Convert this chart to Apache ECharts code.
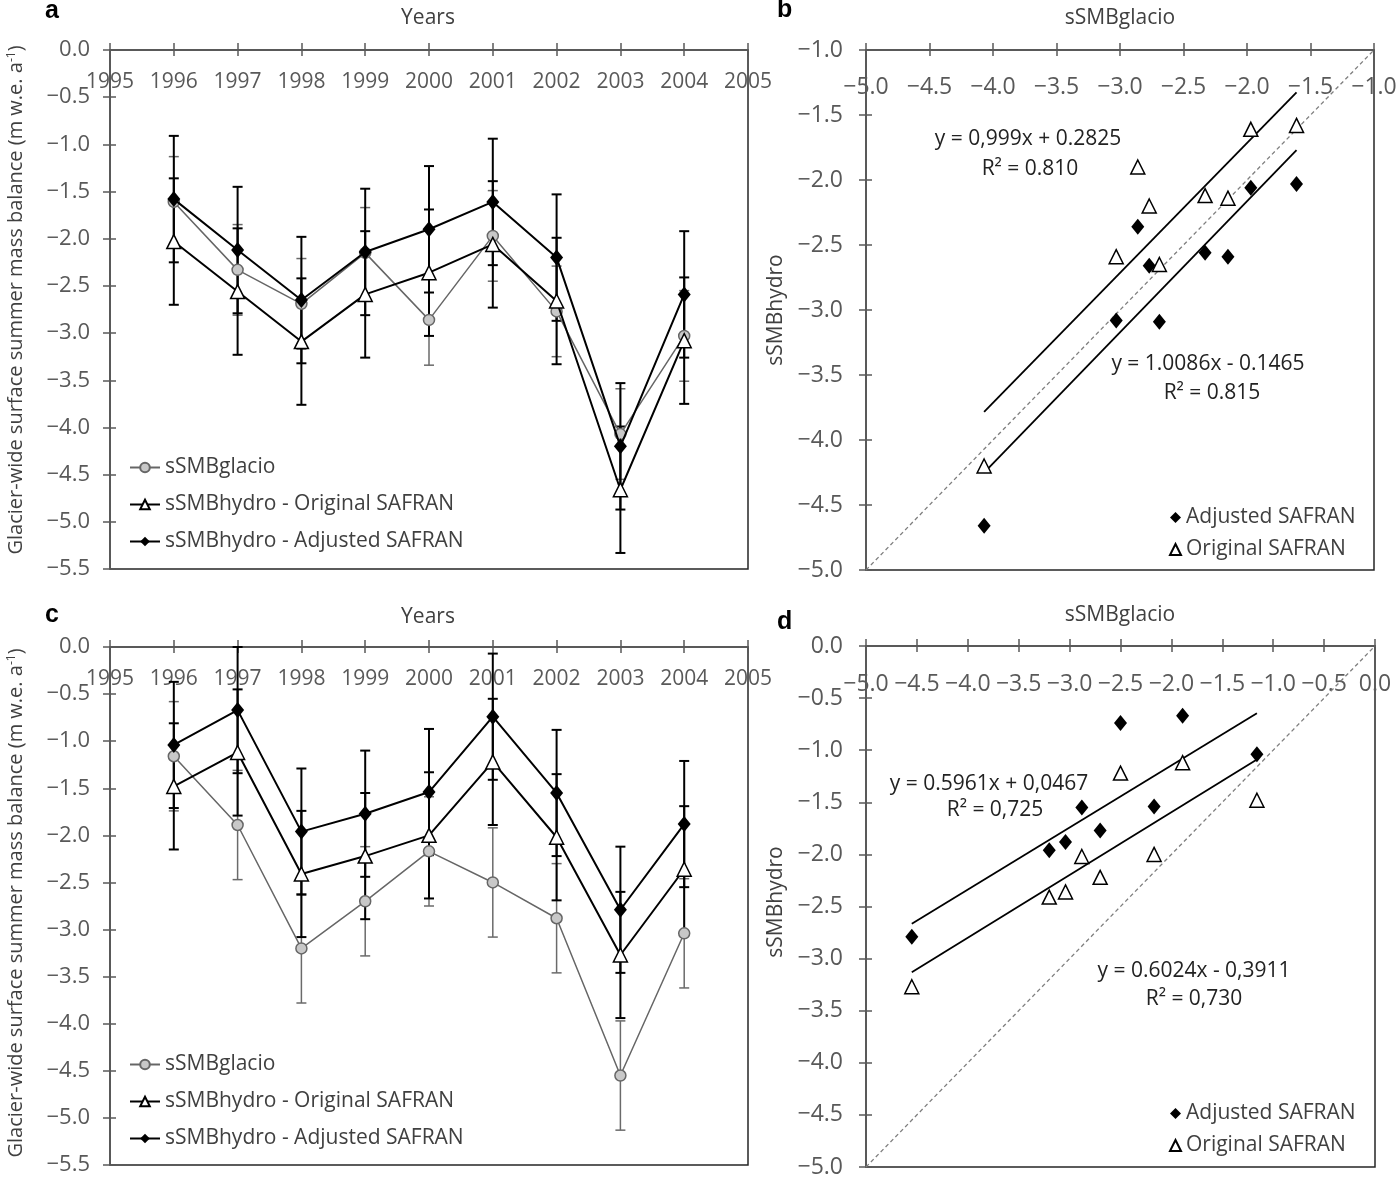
<!DOCTYPE html>
<html>
<head>
<meta charset="utf-8">
<script src="https://cdn.jsdelivr.net/npm/echarts@6/dist/echarts.min.js"></script>
<style>
html,body{margin:0;padding:0;background:#fff;}
#chart{width:1400px;height:1195px;}
</style>
</head>
<body>
<div id="chart"></div>
<script>
// years of the time series (panels a and c)
var years = [1996, 1997, 1998, 1999, 2000, 2001, 2002, 2003, 2004];

// panel a : sSMB (m w.e.) per year
var glacioA = [-1.61, -2.33, -2.69, -2.15, -2.86, -1.97, -2.77, -4.07, -3.03];
var origA   = [-2.03, -2.56, -3.09, -2.59, -2.36, -2.06, -2.66, -4.66, -3.08];
var adjA    = [-1.58, -2.12, -2.65, -2.14, -1.90, -1.61, -2.20, -4.20, -2.59];
var errGlacioA = [0.48, 0.48, 0.48, 0.48, 0.48, 0.48, 0.48, 0.48, 0.48];
var errHydroA  = [0.67, 0.67, 0.67, 0.67, 0.67, 0.67, 0.67, 0.67, 0.67];

// panel c
var glacioC = [-1.16, -1.89, -3.20, -2.70, -2.17, -2.50, -2.88, -4.55, -3.04];
var origC   = [-1.48, -1.12, -2.41, -2.22, -2.00, -1.22, -2.02, -3.27, -2.36];
var adjC    = [-1.04, -0.67, -1.96, -1.77, -1.54, -0.74, -1.55, -2.79, -1.88];
var errGlacioC = [0.58, 0.58, 0.58, 0.58, 0.58, 0.58, 0.58, 0.58, 0.58];
var errHydroC  = [0.67, 0.67, 0.67, 0.67, 0.67, 0.67, 0.67, 0.67, 0.67];

// regression lines printed on b and d : [slope, intercept]
var fitB_upper = [0.999, 0.2825];
var fitB_lower = [1.0086, -0.1465];
var fitD_upper = [0.5961, 0.0467];
var fitD_lower = [0.6024, -0.3911];

var legendA = ['sSMBglacio', 'sSMBhydro - Original SAFRAN', 'sSMBhydro - Adjusted SAFRAN'];
var legendB = ['Adjusted SAFRAN', 'Original SAFRAN'];

var GREY = '#595959';
var TXT = '#404040';

function pairs(xs, ys) {
    return xs.map(function (x, i) { return [x, ys[i]]; });
}
function withErr(xs, ys, es) {
    return xs.map(function (x, i) { return [x, ys[i], es[i]]; });
}
function fitLine(xs, coef) {
    var lo = Math.min.apply(null, xs), hi = Math.max.apply(null, xs);
    return [[lo, coef[0] * lo + coef[1]], [hi, coef[0] * hi + coef[1]]];
}

function mainAxis(grid, pos, min, max, step, size, margin, fmt) {
    return {
        type: 'value', gridIndex: grid, position: pos, min: min, max: max, interval: step,
        axisLine: {show: true, onZero: false, lineStyle: {color: GREY, width: 1.5}},
        axisTick: {show: true, inside: false, length: 7, lineStyle: {color: GREY, width: 1.5}},
        axisLabel: {show: true, inside: pos === 'top', margin: margin, color: GREY,
            fontFamily: 'Open Sans', fontSize: size, formatter: fmt, showMinLabel: true, showMaxLabel: true},
        splitLine: {show: false}
    };
}
// second axis only to get ticks crossing the axis line
function innerTicks(grid, pos, min, max, step) {
    return {
        type: 'value', gridIndex: grid, position: pos, min: min, max: max, interval: step,
        axisLine: {show: false, onZero: false},
        axisTick: {show: true, inside: true, length: 6, lineStyle: {color: GREY, width: 1.5}},
        axisLabel: {show: false}, splitLine: {show: false}
    };
}
var fmt1 = function (v) { return v.toFixed(1).replace('-', '\u2212'); };
var fmtYear = function (v) { return String(v); };

function errorBars(name, xi, yi, data, color, width) {
    return {
        type: 'custom', name: name, xAxisIndex: xi, yAxisIndex: yi, z: 1, silent: true,
        data: data,
        renderItem: function (params, api) {
            var x = api.value(0), y = api.value(1), e = api.value(2);
            var t = api.coord([x, y + e]), b = api.coord([x, y - e]);
            var st = {stroke: color, lineWidth: width};
            return {type: 'group', children: [
                {type: 'line', shape: {x1: t[0], y1: t[1], x2: b[0], y2: b[1]}, style: st},
                {type: 'line', shape: {x1: t[0] - 5, y1: t[1], x2: t[0] + 5, y2: t[1]}, style: st},
                {type: 'line', shape: {x1: b[0] - 5, y1: b[1], x2: b[0] + 5, y2: b[1]}, style: st}
            ]};
        }
    };
}

function timeSeries(xi, yi, glacio, orig, adj, eg, eh) {
    return [
        errorBars('eg', xi, yi, withErr(years, glacio, eg), '#6a6a6a', 1.5),
        errorBars('eo', xi, yi, withErr(years, orig, eh), '#000', 2),
        errorBars('ea', xi, yi, withErr(years, adj, eh), '#000', 2),
        {type: 'line', name: legendA[0], xAxisIndex: xi, yAxisIndex: yi, z: 3,
            data: pairs(years, glacio), symbol: 'circle', symbolSize: 11,
            itemStyle: {color: '#c8c8c8', borderColor: '#666', borderWidth: 1.5},
            lineStyle: {color: '#666', width: 1.5}},
        {type: 'line', name: legendA[1], xAxisIndex: xi, yAxisIndex: yi, z: 4,
            data: pairs(years, orig), symbol: 'triangle', symbolSize: 14,
            itemStyle: {color: '#fff', borderColor: '#000', borderWidth: 1.5},
            lineStyle: {color: '#000', width: 2}},
        {type: 'line', name: legendA[2], xAxisIndex: xi, yAxisIndex: yi, z: 5,
            data: pairs(years, adj), symbol: 'diamond', symbolSize: [13, 16],
            itemStyle: {color: '#000'}, lineStyle: {color: '#000', width: 2}}
    ];
}

function scatterPanel(xi, yi, glacio, diamY, triY, fitUp, fitLow, oneToOne) {
    return [
        {type: 'line', name: 'one', xAxisIndex: xi, yAxisIndex: yi, data: oneToOne, symbol: 'none',
            silent: true, lineStyle: {color: '#7f7f7f', width: 1.3, type: [4, 3]}},
        {type: 'line', name: 'fit1', xAxisIndex: xi, yAxisIndex: yi, data: fitLine(glacio, fitUp),
            symbol: 'none', silent: true, lineStyle: {color: '#000', width: 1.8}},
        {type: 'line', name: 'fit2', xAxisIndex: xi, yAxisIndex: yi, data: fitLine(glacio, fitLow),
            symbol: 'none', silent: true, lineStyle: {color: '#000', width: 1.8}},
        {type: 'scatter', name: legendB[0], xAxisIndex: xi, yAxisIndex: yi, z: 4,
            data: pairs(glacio, diamY), symbol: 'diamond', symbolSize: [13, 16],
            itemStyle: {color: '#000', opacity: 1}},
        {type: 'scatter', name: legendB[1], xAxisIndex: xi, yAxisIndex: yi, z: 4,
            data: pairs(glacio, triY), symbol: 'triangle', symbolSize: 14,
            itemStyle: {color: '#fff', borderColor: '#000', borderWidth: 1.5, opacity: 1}}
    ];
}

function txt(x, y, s, size, opts) {
    opts = opts || {};
    return {
        type: 'text', x: x, y: y, rotation: opts.rot || 0, z: 10,
        style: {
            text: s, fill: opts.color || TXT, align: opts.align || 'center', verticalAlign: 'middle',
            fontFamily: opts.font || 'Open Sans', fontSize: size, fontWeight: opts.bold ? 'bold' : 'normal',
            rich: {sup: {fontSize: 12, verticalAlign: 'top', fontFamily: 'Open Sans', fill: TXT}}
        }
    };
}

var grids = [
    {left: 110, top: 50, width: 638, height: 519},
    {left: 866, top: 50, width: 508, height: 520},
    {left: 110, top: 647, width: 638, height: 518},
    {left: 866, top: 646, width: 509, height: 521}
].map(function (g) {
    g.show = true; g.borderColor = '#262626'; g.borderWidth = 1.5;
    g.backgroundColor = 'transparent'; g.containLabel = false; g.outerBoundsMode = 'none';
    return g;
});

var xAxes = [
    mainAxis(0, 'top', 1995, 2005, 1, 21, 22, fmtYear),
    mainAxis(1, 'top', -5, -1, 0.5, 23, 26, fmt1),
    mainAxis(2, 'top', 1995, 2005, 1, 21, 22, fmtYear),
    mainAxis(3, 'top', -5, 0, 0.5, 23, 27, fmt1),
    innerTicks(0, 'top', 1995, 2005, 1),
    innerTicks(1, 'top', -5, -1, 0.5),
    innerTicks(2, 'top', 1995, 2005, 1),
    innerTicks(3, 'top', -5, 0, 0.5)
];
var yAxes = [
    mainAxis(0, 'left', -5.5, 0, 0.5, 22, 20, fmt1),
    mainAxis(1, 'left', -5, -1, 0.5, 23, 23, fmt1),
    mainAxis(2, 'left', -5.5, 0, 0.5, 22, 20, fmt1),
    mainAxis(3, 'left', -5, 0, 0.5, 23, 23, fmt1),
    innerTicks(0, 'left', -5.5, 0, 0.5),
    innerTicks(1, 'left', -5, -1, 0.5),
    innerTicks(2, 'left', -5.5, 0, 0.5),
    innerTicks(3, 'left', -5, 0, 0.5)
];

var series = [].concat(
    timeSeries(0, 0, glacioA, origA, adjA, errGlacioA, errHydroA),
    timeSeries(2, 2, glacioC, origC, adjC, errGlacioC, errHydroC),
    // panel b: markers as in the published figure
    scatterPanel(1, 1, glacioA, origA, adjA, fitB_upper, fitB_lower, [[-5, -5], [-1, -1]]),
    scatterPanel(3, 3, glacioC, adjC, origC, fitD_upper, fitD_lower, [[-5, -5], [0, 0]])
);

var legendStyle = {fontFamily: 'Open Sans', fontSize: 21, color: TXT};
var legends = [
    {data: legendA, orient: 'vertical', left: 124, top: 452, itemWidth: 30, itemHeight: 12, itemGap: 16, textStyle: legendStyle, selectedMode: false},
    {data: legendA, orient: 'vertical', left: 124, top: 1049, itemWidth: 30, itemHeight: 12, itemGap: 16, textStyle: legendStyle, selectedMode: false},
    {data: legendB, orient: 'vertical', left: 1164, top: 502, itemWidth: 11, itemHeight: 11, itemGap: 11, textStyle: legendStyle, selectedMode: false},
    {data: legendB, orient: 'vertical', left: 1164, top: 1098, itemWidth: 11, itemHeight: 11, itemGap: 11, textStyle: legendStyle, selectedMode: false}
];

var yTitle = 'Glacier-wide surface summer mass balance (m w.e. a{sup|-1})';
var graphics = [
    txt(45, 11, 'a', 25, {bold: true, font: 'Liberation Sans', color: '#000', align: 'left'}),
    txt(777, 10, 'b', 25, {bold: true, font: 'Liberation Sans', color: '#000', align: 'left'}),
    txt(45, 615, 'c', 25, {bold: true, font: 'Liberation Sans', color: '#000', align: 'left'}),
    txt(777, 622, 'd', 25, {bold: true, font: 'Liberation Sans', color: '#000', align: 'left'}),
    txt(428, 18, 'Years', 21),
    txt(428, 617, 'Years', 21),
    txt(1120, 18, 'sSMBglacio', 21),
    txt(1120, 615, 'sSMBglacio', 21),
    txt(16, 300, yTitle, 20, {rot: Math.PI / 2}),
    txt(16, 903, yTitle, 20, {rot: Math.PI / 2}),
    txt(776, 310, 'sSMBhydro', 21, {rot: Math.PI / 2}),
    txt(776, 902, 'sSMBhydro', 21, {rot: Math.PI / 2}),
    txt(1028, 139, 'y = 0,999x + 0.2825', 21, {color: '#222'}),
    txt(1030, 169, 'R² = 0.810', 21, {color: '#222'}),
    txt(1208, 364, 'y = 1.0086x - 0.1465', 21, {color: '#222'}),
    txt(1212, 393, 'R² = 0.815', 21, {color: '#222'}),
    txt(989, 784, 'y = 0.5961x + 0,0467', 21, {color: '#222'}),
    txt(995, 810, 'R² = 0,725', 21, {color: '#222'}),
    txt(1194, 971, 'y = 0.6024x - 0,3911', 21, {color: '#222'}),
    txt(1194, 999, 'R² = 0,730', 21, {color: '#222'})
];

var myChart = echarts.init(document.getElementById('chart'), null, {renderer: 'canvas'});
myChart.setOption({
    backgroundColor: '#fff',
    animation: false,
    grid: grids,
    xAxis: xAxes,
    yAxis: yAxes,
    legend: legends,
    series: series,
    graphic: graphics
});
</script>
</body>
</html>
